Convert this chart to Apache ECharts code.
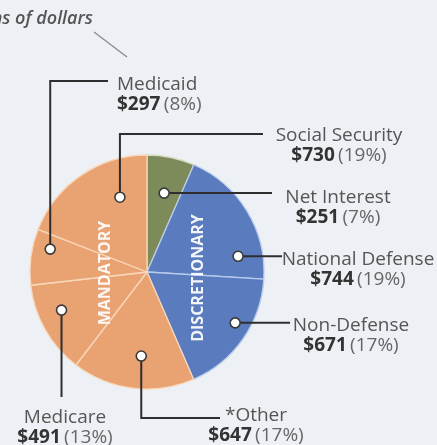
<!DOCTYPE html>
<html>
<head>
<meta charset="utf-8">
<script src="https://cdn.jsdelivr.net/npm/echarts@6/dist/echarts.min.js"></script>
<style>
html,body{margin:0;padding:0;background:#edf0f4;}
#c{width:437px;height:445px;}
</style>
</head>
<body>
<div id="c"></div>
<script>
// ---- data ----
const categories = ['Net Interest', 'National Defense', 'Non-Defense', '*Other', 'Medicare', 'Medicaid', 'Social Security'];
const values = [251, 744, 671, 647, 491, 297, 730];
const percents = [7, 19, 17, 17, 13, 8, 19];
const groups = ['net', 'disc', 'disc', 'mand', 'mand', 'mand', 'mand'];
const unitNote = 'Billions of dollars';
const groupLabels = ['MANDATORY', 'DISCRETIONARY'];

// ---- layout / style (not data) ----
const FONT = '"Open Sans", "DejaVu Sans", sans-serif';
const FS = 19;
const CENTER = [147, 272];
const RADIUS = 117;
const groupColor = { net: '#7d8b5a', disc: '#5a7bbd', mand: '#e9a271' };
const groupBorder = { net: '#d7dcc4', disc: '#b9cbeb', mand: '#f8d7ba' };
// position of the leader dot inside each slice: fraction of slice span, fraction of radius
const dotT = [0.52, 0.81, 0.42, 0.45, 0.62, 0.71, 0.71];
const dotR = [0.69, 0.79, 0.87, 0.72, 0.80, 0.85, 0.68];
// label placement: top anchor, alignment, leader end, elbow kind
const labelPlace = [
  { x: 338, y: 188, align: 'center', end: [272, null], kind: 'h' },
  { x: 358, y: 250, align: 'center', end: [282, null], kind: 'h' },
  { x: 351, y: 316, align: 'center', end: [290, null], kind: 'h' },
  { x: 256, y: 406, align: 'center', end: [220, 418], kind: 'v' },
  { x: 65,  y: 408, align: 'center', end: [null, 397], kind: 'v1' },
  { x: 117, y: 75,  align: 'left',   end: [108, 81], kind: 'v' },
  { x: 339, y: 126, align: 'center', end: [263, 134], kind: 'v' }
];

const total = values.reduce((a, b) => a + b, 0);
const cum = [];
values.reduce((acc, v, i) => { cum[i] = acc; return acc + v; }, 0);

const pieData = categories.map((name, i) => ({
  name: name,
  value: values[i],
  itemStyle: { color: groupColor[groups[i]], borderColor: groupBorder[groups[i]], borderWidth: 1.3 }
}));

const dotData = categories.map((name, i) => [dotR[i], cum[i] + dotT[i] * values[i]]);

function renderLeader(params, api) {
  const i = params.dataIndex;
  const p = api.coord([api.value(0), api.value(1)]);
  const L = labelPlace[i];
  let pts;
  if (L.kind === 'h') pts = [p, [L.end[0], p[1]]];
  else if (L.kind === 'v1') pts = [p, [p[0], L.end[1]]];
  else pts = [p, [p[0], L.end[1]], [L.end[0], L.end[1]]];
  return {
    type: 'group',
    children: [
      { type: 'polyline', shape: { points: pts }, style: { stroke: '#2e2e2e', lineWidth: 2, fill: null }, z2: 1 },
      { type: 'circle', shape: { cx: p[0], cy: p[1], r: 5 }, style: { fill: '#ffffff', stroke: '#3a3a3a', lineWidth: 1.6 }, z2: 2 },
      {
        type: 'text', z2: 3,
        style: {
          x: L.x, y: L.y, align: L.align, verticalAlign: 'top',
          text: '{n|' + categories[i] + '}\n{b|$' + values[i] + '} {p|(' + percents[i] + '%)}',
          rich: {
            n: { fontFamily: FONT, fontSize: FS, fill: '#555555', lineHeight: 20 },
            b: { fontFamily: FONT, fontSize: FS, fill: '#333333', fontWeight: 'bold', lineHeight: 20 },
            p: { fontFamily: FONT, fontSize: FS, fill: '#666666', lineHeight: 20 }
          }
        }
      }
    ]
  };
}

const chart = echarts.init(document.getElementById('c'), null, { renderer: 'canvas' });
chart.setOption({
  backgroundColor: '#edf0f4',
  animation: false,
  textStyle: { fontFamily: FONT },
  polar: { center: CENTER, radius: RADIUS },
  angleAxis: { type: 'value', min: 0, max: total, startAngle: 90, clockwise: true, show: false },
  radiusAxis: { type: 'value', min: 0, max: 1, show: false },
  series: [
    {
      type: 'pie',
      center: CENTER,
      radius: RADIUS,
      startAngle: 90,
      clockwise: true,
      label: { show: false },
      labelLine: { show: false },
      emphasis: { disabled: true },
      data: pieData,
      z: 1
    },
    {
      type: 'custom',
      coordinateSystem: 'polar',
      renderItem: renderLeader,
      data: dotData,
      z: 5,
      silent: true
    }
  ],
  graphic: [
    {
      type: 'text', x: 93, y: 19,
      style: { text: unitNote, fontFamily: FONT, fontSize: 18, fontStyle: 'italic', fontWeight: 600, fill: '#555', align: 'right', verticalAlign: 'middle' }
    },
    {
      type: 'line', shape: { x1: 94, y1: 32, x2: 127, y2: 57 },
      style: { stroke: '#8a8a8a', lineWidth: 1.3 }
    },
    {
      type: 'text', x: 105, y: 273, rotation: Math.PI / 2, z: 10,
      style: { text: groupLabels[0], fontFamily: FONT, fontSize: 16, fontWeight: 'bold', fill: 'rgba(255,255,255,0.92)', align: 'center', verticalAlign: 'middle' }
    },
    {
      type: 'text', x: 198, y: 278, rotation: Math.PI / 2, z: 10,
      style: { text: groupLabels[1], fontFamily: FONT, fontSize: 16, fontWeight: 'bold', fill: 'rgba(255,255,255,0.92)', align: 'center', verticalAlign: 'middle' }
    }
  ]
});
</script>
</body>
</html>
